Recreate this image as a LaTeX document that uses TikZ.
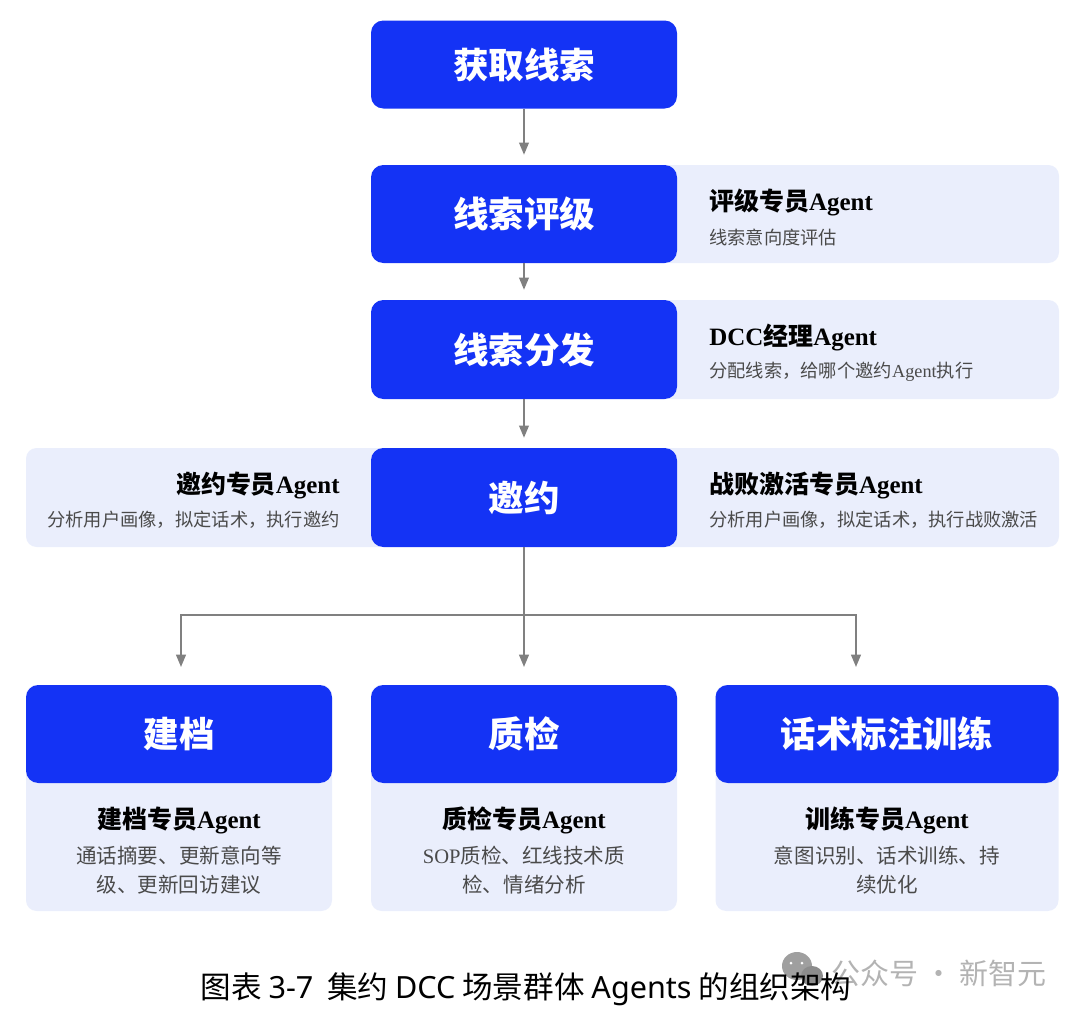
\documentclass[tikz,border=0pt]{standalone}
\usepackage{fontspec}
\setmainfont{Liberation Serif}
\setsansfont{Noto Sans}
\newfontfamily\cjk{Noto Sans CJK SC}
\usetikzlibrary{arrows.meta}
\definecolor{stageblue}{HTML}{1433F5}
\definecolor{panelblue}{HTML}{EAEEFC}
\definecolor{arrowgray}{HTML}{808080}
\definecolor{subgray}{HTML}{4A4A4A}
\newcommand{\agentname}[1]{{\cjk\bfseries #1}{\bfseries Agent}}
\tikzset{
  stage/.style={fill=stageblue, rounded corners=7pt, text=white, font=\cjk\fontsize{20.2}{24}\selectfont\bfseries, inner sep=0pt},
  panel/.style={fill=panelblue, rounded corners=6pt, inner sep=0pt},
  agent/.style={font=\fontsize{14.2}{17}\selectfont, text=black, inner sep=0pt},
  duty/.style={font=\cjk\fontsize{10.4}{16.4}\selectfont, text=subgray, inner sep=0pt},
  bigduty/.style={font=\cjk\fontsize{11.7}{16.4}\selectfont, text=subgray, inner sep=0pt, align=center, anchor=north},
  flow/.style={draw=arrowgray, line width=1.1pt, -{Triangle[length=7pt,width=5.5pt]}},
}
\begin{document}
\begin{tikzpicture}[x=0.02cm, y=-0.02cm]
    \useasboundingbox (0,0) rectangle (1080,1018);

    % Panels behind the stages
    \node[panel, minimum width=399*0.02cm, minimum height=98*0.02cm] (gradepanel) at (859.5,214) {};
    \node[panel, minimum width=399*0.02cm, minimum height=99*0.02cm] (sendpanel) at (859.5,349.5) {};
    \node[panel, minimum width=399*0.02cm, minimum height=99*0.02cm] (winpanel) at (859.5,497.5) {};
    \node[panel, minimum width=364*0.02cm, minimum height=99*0.02cm] (invitepanel) at (208,497.5) {};
    \node[panel, minimum width=306*0.02cm, minimum height=226*0.02cm] (filepanel) at (179,798) {};
    \node[panel, minimum width=306*0.02cm, minimum height=226*0.02cm] (checkpanel) at (524,798) {};
    \node[panel, minimum width=343*0.02cm, minimum height=226*0.02cm] (trainpanel) at (887,798) {};

    % Stages
    \node[stage, minimum width=306*0.02cm, minimum height=88*0.02cm] (lead) at (524,64.5) {获取线索};
    \node[stage, minimum width=306*0.02cm, minimum height=98*0.02cm] (grade) at (524,214) {线索评级};
    \node[stage, minimum width=306*0.02cm, minimum height=99*0.02cm] (send) at (524,349.5) {线索分发};
    \node[stage, minimum width=306*0.02cm, minimum height=99*0.02cm] (invite) at (524,497.5) {邀约};
    \node[stage, minimum width=306*0.02cm, minimum height=98*0.02cm] (file) at (179,734) {建档};
    \node[stage, minimum width=306*0.02cm, minimum height=98*0.02cm] (check) at (524,734) {质检};
    \node[stage, minimum width=343*0.02cm, minimum height=98*0.02cm] (train) at (887,734) {话术标注训练};

    % Right side agents
    \node[agent, anchor=west] (gradeagent) at (709,202) {\agentname{评级专员}};
    \node[duty, anchor=west] (gradeduty) at (709,237) {线索意向度评估};
    \node[agent, anchor=west] (sendagent) at (709,337) {{\bfseries DCC}\agentname{经理}};
    \node[duty, anchor=west] (sendduty) at (709,372) {分配线索，给哪个邀约{\rmfamily Agent}执行};
    \node[agent, anchor=west] (winagent) at (709,485) {\agentname{战败激活专员}};
    \node[duty, anchor=west] (winduty) at (709,520) {分析用户画像，拟定话术，执行战败激活};

    % Left side agent
    \node[agent, anchor=east] (inviteagent) at (340,485) {\agentname{邀约专员}};
    \node[duty, anchor=east] (inviteduty) at (340,520) {分析用户画像，拟定话术，执行邀约};

    % Bottom agents
    \node[agent] (fileagent) at (179,820) {\agentname{建档专员}};
    \node[bigduty] (fileduty) at (179,846) {通话摘要、更新意向等\\级、更新回访建议};
    \node[agent] (checkagent) at (524,820) {\agentname{质检专员}};
    \node[bigduty] (checkduty) at (524,846) {{\rmfamily SOP}质检、红线技术质\\检、情绪分析};
    \node[agent] (trainagent) at (887,820) {\agentname{训练专员}};
    \node[bigduty] (trainduty) at (887,846) {意图识别、话术训练、持\\续优化};

    % Arrows
    \draw[flow, shorten >=5.6pt] (lead) -- (grade);
    \draw[flow, shorten >=5.6pt] (grade) -- (send);
    \draw[flow, shorten >=5.6pt] (send) -- (invite);

    \coordinate (hub) at (524,615);
    \coordinate (fileend) at (181,667);
    \coordinate (checkend) at (524,667);
    \coordinate (trainend) at (856,667);
    \draw[flow] (invite) -- (checkend);
    \draw[flow] (hub) -| (fileend);
    \draw[flow] (hub) -| (trainend);

    % Watermark
    \fill[gray!75] (797,966) ellipse (15 and 14);
    \fill[gray!90] (812,976) ellipse (11 and 10);
    \fill[white] (791,963) circle (1.5);
    \fill[white] (802,963) circle (1.5);
    \node[inner sep=0pt, text=gray, opacity=0.6, font=\cjk\fontsize{16.5}{20}\selectfont] (mark) at (939,973) {公众号 · 新智元};

    % Caption
    \node[inner sep=0pt, font=\cjk\fontsize{17.4}{21}\selectfont] (caption) at (526,989) {图表 {\sffamily 3-7} \ 集约 {\sffamily DCC} 场景群体 {\sffamily Agents} 的组织架构};

\end{tikzpicture}
\end{document}
